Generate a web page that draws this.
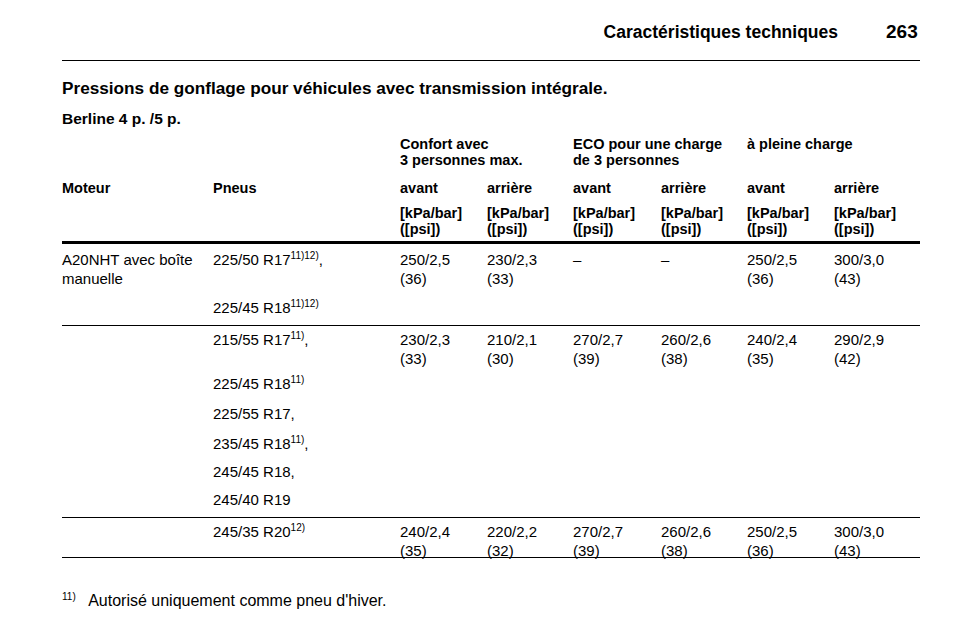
<!DOCTYPE html><html><head><meta charset="utf-8">
<script src="https://cdn.jsdelivr.net/npm/chart.js@4"></script>
<style>
body{margin:0;width:960px;height:642px;background:#fff;font-family:"Liberation Sans",Arial,sans-serif;color:#000;position:relative;overflow:hidden}
.t{position:absolute;font-size:15px;line-height:19px;white-space:nowrap}
.b{font-weight:bold;font-size:14.5px}
.l{position:absolute;left:62px;width:858px;background:#000}
sup{font-size:10px;vertical-align:6px;line-height:0}
</style></head><body>
<script>
const cols=[62,213,400,487,573,661,747,834];
const groups=["Confort avec<br>3 personnes max.","ECO pour une charge<br>de 3 personnes","à pleine charge"];
const heads=["Moteur","Pneus","avant","arrière","avant","arrière","avant","arrière"];
const unit="[kPa/bar]<br>([psi])";
const rows=[
 {y:250,engine:"A20NHT avec boîte<br>manuelle",tires:[["225/50 R17<sup>11)12)</sup>,",250],["225/45 R18<sup>11)12)</sup>",298]],vals:["250/2,5<br>(36)","230/2,3<br>(33)","–","–","250/2,5<br>(36)","300/3,0<br>(43)"],line:325,lw:1},
 {y:330,engine:"",tires:[["215/55 R17<sup>11)</sup>,",330],["225/45 R18<sup>11)</sup>",374],["225/55 R17,",404],["235/45 R18<sup>11)</sup>,",434],["245/45 R18,",462],["245/40 R19",490]],vals:["230/2,3<br>(33)","210/2,1<br>(30)","270/2,7<br>(39)","260/2,6<br>(38)","240/2,4<br>(35)","290/2,9<br>(42)"],line:517,lw:1},
 {y:522,engine:"",tires:[["245/35 R20<sup>12)</sup>",522]],vals:["240/2,4<br>(35)","220/2,2<br>(32)","270/2,7<br>(39)","260/2,6<br>(38)","250/2,5<br>(36)","300/3,0<br>(43)"],line:557,lw:1}
];
let h='';
const T=(x,y,s,c='',st='')=>h+=`<div class="t ${c}" style="left:${x}px;top:${y}px;${st}">${s}</div>`;
const L=(y,w)=>h+=`<div class="l" style="top:${y}px;height:${w}px"></div>`;
T(0,20,"Caractéristiques techniques","b","left:auto;right:122px;font-size:17.5px;line-height:24px");
T(886,20,"263","b","font-size:19px;line-height:24px");
L(60,1);
T(62,77,"Pressions de gonflage pour véhicules avec transmission intégrale.","b","font-size:17.2px;line-height:22px");
T(62,109,"Berline 4 p. /5 p.","b","font-size:15.5px");
groups.forEach((g,i)=>T(cols[2+2*i],136,g,"b","line-height:16px"));
heads.forEach((s,i)=>T(cols[i],179,s,"b"));
for(let i=2;i<8;i++)T(cols[i],205,unit,"b","line-height:16px");
L(241,3);
rows.forEach(r=>{
 if(r.engine)T(cols[0],r.y,r.engine);
 r.tires.forEach(t=>T(cols[1],t[1],t[0]));
 r.vals.forEach((v,i)=>T(cols[2+i],r.y,v));
 L(r.line,r.lw);
});
T(62,591,"<sup>11)</sup>&nbsp;&nbsp; Autorisé uniquement comme pneu d'hiver.","","font-size:16px");
document.body.innerHTML+=h;
</script>
</body></html>
